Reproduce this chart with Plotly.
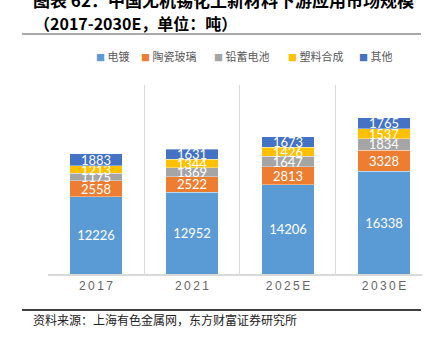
import plotly.graph_objects as go

categories = ["2017", "2021", "2025E", "2030E"]
series_names = ["电镀", "陶瓷玻璃", "铅蓄电池", "塑料合成", "其他"]
electroplating = [12226, 12952, 14206, 16338]
ceramic_glass = [2558, 2522, 2813, 3328]
lead_battery = [1175, 1369, 1647, 1834]
plastic = [1213, 1344, 1426, 1537]
others = [1883, 1631, 1673, 1765]
series_values = [electroplating, ceramic_glass, lead_battery, plastic, others]
colors = ["#5B9BD5", "#ED7D31", "#A5A5A5", "#FFC000", "#4472C4"]

title_line1 = "图表 62：中国无机锡化工新材料下游应用市场规模"
title_line2 = "（2017-2030E，单位：吨）"
source_text = "资料来源：上海有色金属网，东方财富证券研究所"

W, H = 440, 338
L, R, T, B = 48, 18, 85, 64
pw, ph = W - L - R, H - T - B

def px2paper_x(px):
    return (px - L) / pw

def px2paper_y(py):
    return 1 - (py - T) / ph

fig = go.Figure()
for name, vals, col in zip(series_names, series_values, colors):
    fig.add_trace(go.Bar(
        x=categories, y=vals, name=name,
        marker=dict(color=col, line=dict(color="rgba(255,255,255,0.6)", width=0.6)),
        text=[str(v) for v in vals], textposition="inside", insidetextanchor="middle",
        textangle=0, constraintext="none",
        textfont=dict(family="Lato, Open Sans, sans-serif", size=13, color="white"),
        width=0.55, showlegend=False, hoverinfo="skip",
    ))

thin = "\u2009"
fig.update_layout(
    width=W, height=H, barmode="stack",
    margin=dict(l=L, r=R, t=T, b=B, pad=0),
    plot_bgcolor="white", paper_bgcolor="white",
    xaxis=dict(
        type="category", range=[-0.5, 3.396], tickson="boundaries",
        showgrid=True, gridcolor="#d9d9d9", gridwidth=1,
        showline=True, linecolor="#d9d9d9", linewidth=2,
        tickvals=categories, ticktext=[thin.join(c) for c in categories],
        ticks="outside", ticklen=5, tickcolor="rgba(0,0,0,0)",
        tickfont=dict(family="Liberation Sans, sans-serif", size=12, color="#666666"),
        zeroline=False,
    ),
    yaxis=dict(range=[0, 30000], showgrid=False, showticklabels=False, zeroline=False, showline=False),
)

annotations = [
    dict(text="<b>" + title_line1 + "</b>", x=px2paper_x(31), y=px2paper_y(-1), xref="paper", yref="paper",
         xanchor="left", yanchor="middle", showarrow=False,
         font=dict(family="Noto Sans CJK SC", size=17, color="#000000")),
    dict(text="<b>" + title_line2 + "</b>", x=px2paper_x(32), y=px2paper_y(23), xref="paper", yref="paper",
         xanchor="left", yanchor="middle", showarrow=False,
         font=dict(family="Noto Sans CJK SC", size=16, color="#000000")),
    dict(text=source_text, x=px2paper_x(31), y=px2paper_y(319), xref="paper", yref="paper",
         xanchor="left", yanchor="middle", showarrow=False,
         font=dict(family="Noto Sans CJK SC", size=12, color="#222222")),
]
legend_x = [94, 139, 212, 286, 357]
for name, col, lx in zip(series_names, colors, legend_x):
    annotations.append(dict(
        text=f"<span style='color:{col};font-size:9px'>■</span> {name}",
        x=px2paper_x(lx), y=px2paper_y(56), xref="paper", yref="paper",
        xanchor="left", yanchor="middle", showarrow=False,
        font=dict(family="Noto Sans CJK SC", size=11, color="#595959")))
fig.update_layout(annotations=annotations)

fig.add_shape(type="line", xref="paper", yref="paper",
              x0=px2paper_x(22), x1=px2paper_x(421), y0=px2paper_y(34), y1=px2paper_y(34),
              line=dict(color="#555555", width=1))
fig.add_shape(type="line", xref="paper", yref="paper",
              x0=px2paper_x(22), x1=px2paper_x(421), y0=px2paper_y(310), y1=px2paper_y(310),
              line=dict(color="#000000", width=1.5))

fig.write_html("out.html")
